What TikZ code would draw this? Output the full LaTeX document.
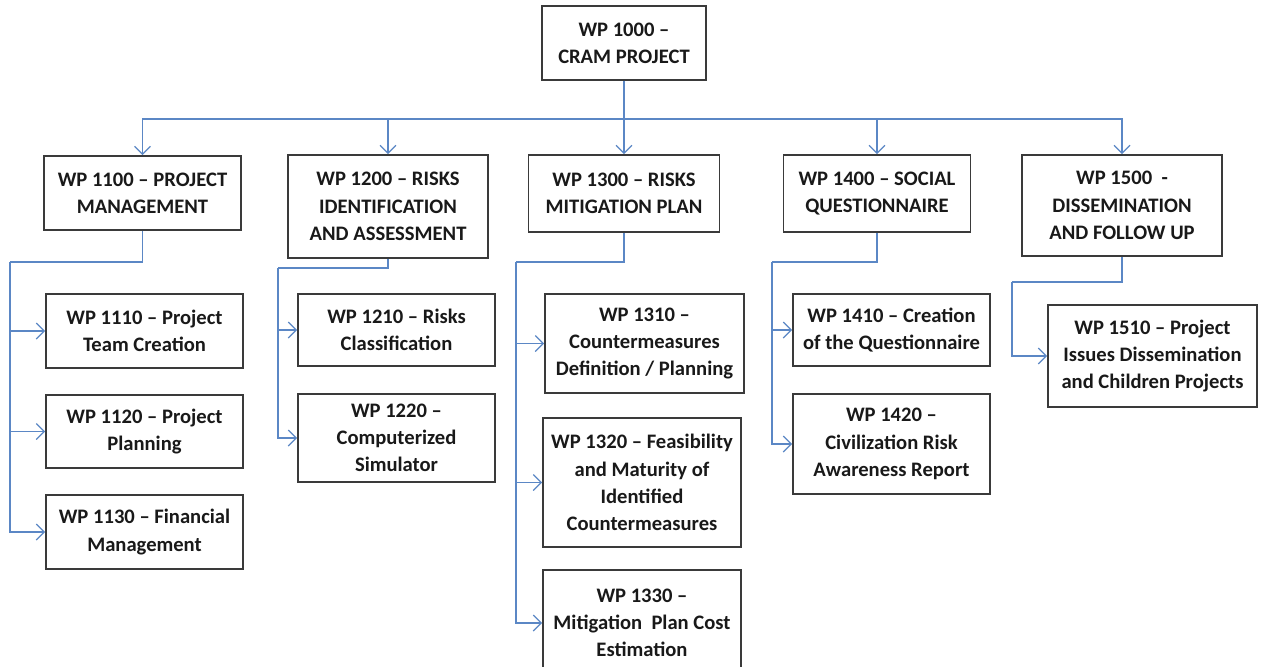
\documentclass[tikz,border=0pt]{standalone}
\usepackage{fontspec}
\setmainfont{Carlito}
\usepackage{tikz}
\usetikzlibrary{arrows.meta}
\definecolor{wpblue}{HTML}{5B87C5}
\definecolor{wpgray}{HTML}{3A3A3A}

\tikzset{
  wpbox/.style={draw=wpgray, line width=0.9pt, fill=white, align=center, inner sep=0pt,
    font=\fontsize{10.3}{13.6}\selectfont\bfseries, text=black!90},
  link/.style={draw=wpblue, line width=0.6pt, -{Straight Barb[length=4pt, width=8pt]}},
}

\begin{document}
\begin{tikzpicture}[x=0.5pt, y=-0.5pt]
\fill[white] (0,0) rectangle (1264,666);
\useasboundingbox (0,0) rectangle (1264,666);
% top level
\node[wpbox, minimum width=82pt, minimum height=37pt] (wp1000) at (624,43) {WP 1000 --\\CRAM PROJECT};
\coordinate (bus) at (624,119);
% second level
\node[wpbox, minimum width=98.5pt, minimum height=37pt] (wp1100) at (142.5,193) {WP 1100 -- PROJECT\\MANAGEMENT};
\node[wpbox, minimum width=100pt, minimum height=51.5pt] (wp1200) at (388,206.5) {WP 1200 -- RISKS\\IDENTIFICATION\\AND ASSESSMENT};
\node[wpbox, minimum width=95.5pt, minimum height=38.5pt] (wp1300) at (624,193.5) {WP 1300 -- RISKS\\MITIGATION PLAN};
\node[wpbox, minimum width=93.5pt, minimum height=38.5pt] (wp1400) at (877,193.5) {WP 1400 -- SOCIAL\\QUESTIONNAIRE};
\node[wpbox, minimum width=100pt, minimum height=50.5pt] (wp1500) at (1122,205.5) {WP 1500\ \ -\\DISSEMINATION\\AND FOLLOW UP};
\foreach \wp in {wp1100,wp1200,wp1300,wp1400,wp1500}
  \draw[link] (wp1000.south) -- (bus) -| (\wp.north);
% third level
\node[wpbox, minimum width=98.5pt, minimum height=37pt] (wp1110) at (144.5,331) {WP 1110 -- Project\\Team Creation};
\node[wpbox, minimum width=98.5pt, minimum height=36.5pt] (wp1120) at (144.5,431.5) {WP 1120 -- Project\\Planning};
\node[wpbox, minimum width=98.5pt, minimum height=37pt] (wp1130) at (144.5,532) {WP 1130 -- Financial\\Management};
\node[wpbox, minimum width=98.5pt, minimum height=36pt] (wp1210) at (396.5,330) {WP 1210 -- Risks\\Classification};
\node[wpbox, minimum width=98.5pt, minimum height=44pt] (wp1220) at (396.5,438) {WP 1220 --\\Computerized\\Simulator};
\node[wpbox, minimum width=99.5pt, minimum height=49.5pt] (wp1310) at (644.5,343.5) {WP 1310 --\\Countermeasures\\Definition / Planning};
\node[wpbox, minimum width=99pt, minimum height=64.5pt] (wp1320) at (642,482.5) {WP 1320 -- Feasibility\\and Maturity of\\Identified\\Countermeasures};
\node[wpbox, minimum width=99pt, minimum height=53pt] (wp1330) at (642,623) {WP 1330 --\\Mitigation\ \ Plan Cost\\Estimation};
\node[wpbox, minimum width=98.5pt, minimum height=36pt] (wp1410) at (891.5,330) {WP 1410 -- Creation\\of the Questionnaire};
\node[wpbox, minimum width=98.5pt, minimum height=50pt] (wp1420) at (891.5,444) {WP 1420 --\\Civilization Risk\\Awareness Report};
\node[wpbox, minimum width=104.5pt, minimum height=51pt] (wp1510) at (1152.5,356) {WP 1510 -- Project\\Issues Dissemination\\and Children Projects};
% spines
\coordinate (s1100) at (10,262);
\coordinate (s1200) at (278,268);
\coordinate (s1300) at (516,262);
\coordinate (s1400) at (772,262);
\coordinate (s1500) at (1012,282);
\draw[link, -] (wp1100.south) |- (s1100);
\draw[link, -] (wp1200.south) |- (s1200);
\draw[link, -] (wp1300.south) |- (s1300);
\draw[link, -] (wp1400.south) |- (s1400);
\draw[link, -] (wp1500.south) |- (s1500);
\foreach \wp in {wp1110,wp1120,wp1130}
  \draw[link] (s1100) |- (\wp.west);
\foreach \wp in {wp1210,wp1220}
  \draw[link] (s1200) |- (\wp.west);
\foreach \wp in {wp1310,wp1320,wp1330}
  \draw[link] (s1300) |- (\wp.west);
\foreach \wp in {wp1410,wp1420}
  \draw[link] (s1400) |- (\wp.west);
\draw[link] (s1500) |- (wp1510.west);
\end{tikzpicture}
\end{document}
